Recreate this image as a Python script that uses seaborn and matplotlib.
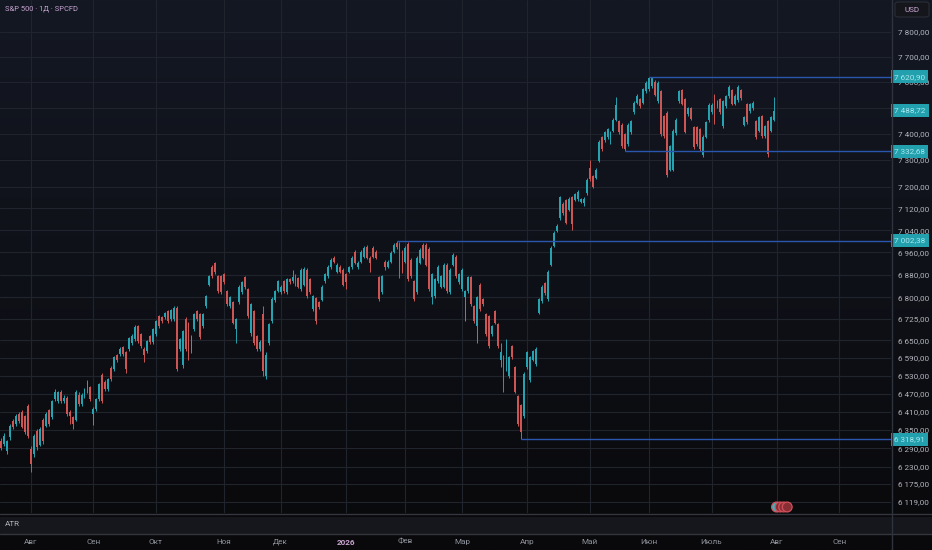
import numpy as np
import pandas as pd
import matplotlib
matplotlib.use("Agg")
import matplotlib.pyplot as plt
import seaborn as sns
from matplotlib import transforms
from matplotlib.colors import LinearSegmentedColormap
from matplotlib.lines import Line2D
from matplotlib.patches import FancyBboxPatch
from matplotlib.ticker import FixedLocator, NullLocator, FuncFormatter

# daily OHLC, S&P 500 (SPCFD), first candle = 2025-07-18, last = 2026-07-31
opens = [
    6312, 6305, 6280, 6325, 6378, 6368, 6401, 6408, 6395, 6428,
    6286, 6270, 6345, 6302, 6384, 6364, 6414, 6391, 6451, 6444,
    6477, 6444, 6457, 6408, 6391, 6384, 6467, 6434, 6461, 6477,
    6491, 6401, 6418, 6451, 6531, 6508, 6484, 6555, 6552, 6599,
    6603, 6626, 6609, 6620, 6640, 6654, 6699, 6671, 6620, 6613,
    6664, 6644, 6671, 6733, 6730, 6730, 6751, 6723, 6723, 6764,
    6620, 6565, 6726, 6709, 6613, 6688, 6751, 6740, 6699, 6768,
    6845, 6909, 6920, 6874, 6874, 6881, 6821, 6768, 6782, 6688,
    6782, 6817, 6870, 6828, 6675, 6751, 6664, 6620, 6740, 6528,
    6640, 6716, 6790, 6824, 6817, 6856, 6817, 6863, 6856, 6877,
    6867, 6828, 6845, 6898, 6863, 6758, 6796, 6782, 6792, 6856,
    6874, 6906, 6941, 6891, 6909, 6898, 6881, 6891, 6906, 6962,
    6906, 6927, 6944, 6980, 6941, 6976, 6962, 6870, 6817, 6927,
    6909, 6927, 6962, 6995, 6990, 6962, 6927, 6990, 6934, 6856,
    6817, 6923, 6987, 6987, 6973, 6800, 6803, 6856, 6838, 6838,
    6916, 6817, 6916, 6944, 6853, 6828, 6800, 6821, 6870, 6768,
    6699, 6845, 6793, 6740, 6733, 6671, 6751, 6706, 6585, 6596,
    6569, 6528, 6630, 6558, 6461, 6431, 6394, 6558, 6514, 6585,
    6569, 6746, 6786, 6849, 6793, 6916, 6984, 7038, 7083, 7137,
    7149, 7115, 7160, 7152, 7153, 7145, 7141, 7175, 7268, 7238,
    7234, 7298, 7386, 7374, 7386, 7386, 7412, 7454, 7447, 7435,
    7397, 7359, 7405, 7482, 7520, 7532, 7520, 7563, 7571, 7583,
    7602, 7524, 7563, 7466, 7481, 7264, 7264, 7401, 7524, 7567,
    7532, 7474, 7497, 7424, 7424, 7416, 7317, 7389, 7451, 7482,
    7547, 7505, 7532, 7428, 7505, 7544, 7567, 7516, 7528, 7567,
    7435, 7513, 7486, 7497, 7447, 7412, 7466, 7390, 7447, 7412, 7454,
]
highs = [
    6322, 6340, 6318, 6368, 6386, 6402, 6408, 6414, 6400, 6434,
    6296, 6336, 6352, 6358, 6390, 6408, 6420, 6450, 6484, 6480,
    6483, 6464, 6462, 6414, 6396, 6482, 6474, 6472, 6490, 6514,
    6497, 6424, 6456, 6506, 6538, 6514, 6524, 6562, 6598, 6605,
    6626, 6632, 6614, 6663, 6673, 6704, 6705, 6677, 6626, 6653,
    6670, 6694, 6722, 6739, 6736, 6750, 6757, 6760, 6770, 6770,
    6660, 6687, 6732, 6715, 6670, 6746, 6757, 6746, 6746, 6809,
    6880, 6915, 6926, 6880, 6880, 6887, 6827, 6806, 6788, 6729,
    6844, 6859, 6876, 6834, 6781, 6757, 6670, 6650, 6770, 6610,
    6712, 6801, 6827, 6862, 6844, 6862, 6869, 6869, 6898, 6883,
    6873, 6904, 6908, 6904, 6869, 6809, 6802, 6788, 6844, 6887,
    6915, 6940, 6947, 6922, 6915, 6904, 6887, 6912, 6947, 6968,
    6929, 6968, 6982, 6986, 6947, 6982, 6968, 6876, 6880, 6933,
    6933, 6965, 6993, 7002.38, 6996, 6968, 6982, 6996, 6940, 6862,
    6947, 6976, 6993, 6993, 6979, 6887, 6869, 6915, 6880, 6922,
    6922, 6904, 6957, 6950, 6887, 6904, 6827, 6876, 6876, 6774,
    6806, 6851, 6799, 6746, 6739, 6705, 6757, 6712, 6640, 6602,
    6654, 6598, 6636, 6564, 6467, 6437, 6541, 6615, 6598, 6619,
    6626, 6799, 6844, 6855, 6897, 6982, 7037, 7063, 7166, 7143,
    7155, 7162, 7166, 7177, 7188, 7159, 7162, 7232, 7300, 7244,
    7270, 7376, 7392, 7411, 7422, 7411, 7460, 7540, 7453, 7441,
    7403, 7441, 7453, 7526, 7553, 7538, 7577, 7604, 7620.90, 7619,
    7608, 7604, 7569, 7472, 7487, 7358, 7418, 7460, 7569, 7573,
    7538, 7503, 7503, 7430, 7430, 7422, 7395, 7449, 7518, 7518,
    7553, 7530, 7538, 7530, 7550, 7588, 7573, 7553, 7588, 7573,
    7468, 7519, 7519, 7526, 7453, 7468, 7472, 7434, 7453, 7468, 7540,
]
lows = [
    6284, 6298, 6272, 6318, 6354, 6362, 6372, 6355, 6336, 6322,
    6212, 6262, 6284, 6296, 6305, 6358, 6362, 6385, 6446, 6438,
    6438, 6438, 6395, 6368, 6352, 6378, 6428, 6428, 6456, 6472,
    6445, 6365, 6412, 6446, 6438, 6478, 6478, 6512, 6546, 6576,
    6597, 6597, 6540, 6614, 6634, 6648, 6641, 6624, 6575, 6607,
    6638, 6638, 6665, 6693, 6710, 6724, 6710, 6717, 6717, 6546,
    6614, 6555, 6614, 6585, 6607, 6682, 6717, 6655, 6693, 6762,
    6839, 6868, 6882, 6815, 6811, 6847, 6769, 6762, 6706, 6640,
    6776, 6811, 6829, 6727, 6665, 6634, 6614, 6614, 6530, 6520,
    6634, 6710, 6784, 6818, 6811, 6815, 6811, 6847, 6850, 6839,
    6832, 6822, 6839, 6797, 6811, 6752, 6708, 6759, 6786, 6850,
    6868, 6900, 6921, 6885, 6885, 6839, 6828, 6885, 6900, 6917,
    6900, 6921, 6938, 6935, 6888, 6938, 6935, 6787, 6811, 6898,
    6903, 6921, 6956, 6972, 6867, 6885, 6921, 6857, 6868, 6787,
    6811, 6917, 6935, 6910, 6822, 6775, 6797, 6850, 6832, 6832,
    6815, 6811, 6910, 6868, 6847, 6822, 6719, 6815, 6769, 6710,
    6640, 6752, 6769, 6665, 6624, 6665, 6706, 6624, 6560, 6477,
    6545, 6522, 6586, 6471, 6362, 6318.91, 6388, 6552, 6508, 6579,
    6563, 6740, 6780, 6808, 6787, 6910, 6978, 7032, 7077, 7095,
    7062, 7109, 7040, 7146, 7147, 7139, 7128, 7169, 7221, 7194,
    7228, 7292, 7334, 7368, 7380, 7360, 7406, 7448, 7399, 7346,
    7332.68, 7353, 7399, 7476, 7514, 7499, 7514, 7557, 7565, 7577,
    7545, 7518, 7390, 7384, 7235, 7258, 7258, 7395, 7518, 7510,
    7402, 7468, 7452, 7342, 7353, 7334, 7311, 7383, 7445, 7476,
    7437, 7499, 7476, 7422, 7499, 7538, 7510, 7510, 7522, 7530,
    7429, 7437, 7480, 7491, 7380, 7406, 7384, 7384, 7310, 7406, 7448,
]
closes = [
    6290, 6330, 6312, 6362, 6361, 6395, 6378, 6361, 6342, 6329,
    6238, 6329, 6293, 6352, 6312, 6401, 6368, 6444, 6477, 6474,
    6444, 6457, 6401, 6394, 6368, 6477, 6434, 6467, 6484, 6508,
    6451, 6418, 6451, 6501, 6444, 6484, 6518, 6518, 6592, 6582,
    6620, 6603, 6552, 6657, 6667, 6698, 6647, 6630, 6599, 6647,
    6644, 6688, 6716, 6699, 6716, 6744, 6716, 6754, 6764, 6552,
    6654, 6681, 6620, 6596, 6664, 6740, 6723, 6661, 6740, 6803,
    6874, 6874, 6888, 6821, 6817, 6853, 6775, 6800, 6712, 6723,
    6838, 6853, 6835, 6733, 6775, 6640, 6620, 6644, 6545, 6602,
    6706, 6795, 6821, 6856, 6838, 6821, 6863, 6853, 6870, 6845,
    6838, 6898, 6902, 6803, 6817, 6803, 6719, 6765, 6838, 6881,
    6909, 6934, 6927, 6916, 6891, 6845, 6853, 6906, 6941, 6923,
    6923, 6962, 6976, 6941, 6923, 6944, 6941, 6793, 6874, 6909,
    6927, 6959, 6987, 6978, 6905, 6891, 6976, 6863, 6874, 6793,
    6941, 6970, 6941, 6916, 6828, 6881, 6863, 6909, 6874, 6916,
    6821, 6898, 6951, 6874, 6881, 6898, 6821, 6870, 6775, 6716,
    6800, 6758, 6775, 6671, 6630, 6699, 6712, 6630, 6609, 6508,
    6585, 6592, 6592, 6477, 6368, 6342, 6535, 6609, 6592, 6613,
    6620, 6793, 6838, 6814, 6891, 6976, 7031, 7057, 7160, 7101,
    7068, 7156, 7064, 7171, 7182, 7153, 7156, 7226, 7227, 7200,
    7264, 7370, 7340, 7405, 7416, 7405, 7454, 7512, 7405, 7352,
    7340, 7435, 7447, 7520, 7547, 7505, 7571, 7598, 7617, 7617,
    7551, 7598, 7398, 7390, 7245, 7352, 7412, 7454, 7563, 7516,
    7408, 7497, 7458, 7348, 7359, 7340, 7389, 7443, 7512, 7512,
    7443, 7524, 7482, 7524, 7544, 7582, 7516, 7547, 7582, 7536,
    7462, 7443, 7513, 7520, 7386, 7462, 7390, 7428, 7321, 7462, 7488.72,
]

# horizontal levels drawn on the chart and the bar index where each starts
levels = [7620.90, 7332.68, 7002.38, 6318.91]
level_start = [208, 200, 123, 165]
last_price = 7488.72

price_ticks = [6119, 6175, 6230, 6290, 6350, 6410, 6470, 6530, 6590, 6650,
               6725, 6800, 6880, 6960, 7040, 7120, 7200, 7300, 7400, 7500,
               7600, 7700, 7800]
month_labels = ["Авг", "Сен", "Окт", "Ноя", "Дек", "2026", "Фев", "Мар",
                "Апр", "Май", "Июн", "Июль", "Авг", "Сен"]
holidays = ["2025-09-01", "2025-11-27", "2025-12-25", "2026-01-01",
            "2026-01-19", "2026-02-16", "2026-04-03", "2026-05-25",
            "2026-06-19", "2026-07-03", "2026-09-07"]

UP = "#26a3b1"
DOWN = "#cd5553"
LEVEL = "#2a57ad"
TEXT = "#b2b5be"
PINK = "#c9a5d2"

sns.set_theme(style="dark")
plt.rcParams["font.family"] = ["Roboto", "DejaVu Sans"]

W, H = 932, 550
fig = plt.figure(figsize=(W / 100, H / 100), dpi=100)
fig.patch.set_facecolor("#0b0b0d")

# background gradient
bg = fig.add_axes([0, 0, 1, 1])
bg.axis("off")
cmap = LinearSegmentedColormap.from_list("bg", ["#141823", "#0f1118", "#09090b"])
bg.imshow(np.linspace(0, 1, 256)[:, None], aspect="auto", cmap=cmap,
          extent=[0, 1, 0, 1])
bg.set_xlim(0, 1)
bg.set_ylim(0, 1)

# trading calendar for the x axis
days = pd.bdate_range("2025-07-18", "2026-09-30")
days = days[~days.isin(pd.to_datetime(holidays))]
bar_idx = pd.Series(np.arange(len(days)) - 10, index=days)
month_pos = bar_idx.groupby([days.year, days.month]).first().values[1:]

o = np.array(opens, float)
hi = np.array(highs, float)
lo = np.array(lows, float)
c = np.array(closes, float)
x = np.arange(len(o)) - 10
cols = np.where(c >= o, UP, DOWN)

ax = fig.add_axes([0, 37 / H, 891 / W, 513 / H])
ax.patch.set_alpha(0)
ax.set_yscale("log")
ax.vlines(x, lo, hi, colors=cols, lw=0.7, zorder=3)
ax.bar(x, np.abs(c - o), bottom=np.minimum(o, c), width=0.64, color=cols,
       linewidth=0, zorder=4)

xmax = 289.4
for lv, st in zip(levels, level_start):
    ax.hlines(lv, st, xmax, color=LEVEL, lw=1.0, zorder=5)

ax.set_xlim(-10.43, xmax)
ax.set_ylim(6083, 7929)


def fmt_price(v, pos=None):
    return f"{v:,.2f}".replace(",", " ").replace(".", ",")


ax.yaxis.set_major_locator(FixedLocator(price_ticks))
ax.yaxis.set_minor_locator(NullLocator())
ax.yaxis.set_major_formatter(FuncFormatter(fmt_price))
ax.yaxis.tick_right()
ax.tick_params(axis="y", length=0, pad=5, labelsize=5.9, labelcolor=TEXT)

ax.set_xticks(month_pos)
ax.set_xticklabels(month_labels)
ax.tick_params(axis="x", length=0, pad=18.5, labelsize=5.9, labelcolor="#8f939c")
for lab in ax.get_xticklabels():
    if lab.get_text() == "2026":
        lab.set_color(PINK)
        lab.set_fontweight("bold")

ax.grid(True, color="#20242d", lw=0.8)
for s in ax.spines.values():
    s.set_visible(False)

# price boxes on the scale
trans = transforms.blended_transform_factory(ax.transAxes, ax.transData)
for p in levels + [last_price]:
    ax.text(1.0 + 3 / 891, p, fmt_price(p), transform=trans, ha="left",
            va="center", fontsize=5.9, color="#a8e8ee", clip_on=False,
            zorder=10, bbox=dict(boxstyle="square,pad=0.4", fc="#22a0ad",
                                 ec="none"))

# event markers near the bottom
ax.scatter([0.8715, 0.8755, 0.8795, 0.8835], [0.0117] * 4,
           transform=ax.transAxes, s=[50, 50, 50, 50],
           c=["#30b8c4", "#8a2e36", "#8a2e36", "#8a2e36"],
           edgecolors="#d2505a", linewidths=0.9, zorder=6, clip_on=False)

# ATR pane
atr = fig.add_axes([0, 16.5 / H, 1, 17 / H])
atr.set_facecolor("#15171c")
atr.set_xticks([])
atr.set_yticks([])
for s in atr.spines.values():
    s.set_visible(False)
fig.text(5 / W, 1 - 524 / H, "ATR", fontsize=5.9, color=TEXT, va="center")

for yy in (514, 533.5):
    fig.add_artist(Line2D([0, 1], [1 - yy / H] * 2, color="#33363f", lw=1))
fig.add_artist(Line2D([891.5 / W] * 2, [0, 1], color="#2f333d", lw=1))

# header
fig.text(5 / W, 1 - 9 / H, "S&P 500 · 1Д · SPCFD", fontsize=5.4, color=PINK,
         va="center")
fig.add_artist(FancyBboxPatch((895 / W, 1 - 17 / H), 34 / W, 15 / H,
                              boxstyle="round,pad=0,rounding_size=0.004",
                              fc="#14161c", ec="#2a2d36", lw=0.8,
                              transform=fig.transFigure))
fig.text(912 / W, 1 - 9.5 / H, "USD", fontsize=5.9, color=PINK,
         ha="center", va="center")

fig.savefig("out.png", dpi=100, facecolor=fig.get_facecolor())
